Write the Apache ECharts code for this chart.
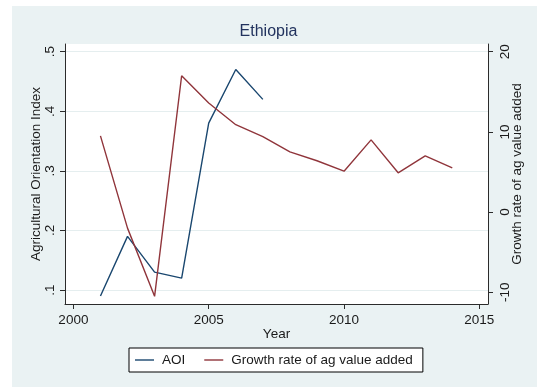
<!DOCTYPE html>
<html>
<head>
<meta charset="utf-8">
<script src="https://cdn.jsdelivr.net/npm/echarts@6/dist/echarts.min.js"></script>
<style>
  html, body { margin: 0; padding: 0; background: #ffffff; }
  #chart { width: 537px; height: 387px; }
</style>
</head>
<body>
<div id="chart"></div>
<script>
// Ethiopia: Agricultural Orientation Index vs growth rate of agricultural value added
const years = [2001, 2002, 2003, 2004, 2005, 2006, 2007, 2008, 2009, 2010, 2011, 2012, 2013, 2014];
const aoi = [0.09, 0.19, 0.13, 0.12, 0.38, 0.47, 0.42, null, null, null, null, null, null, null];
const growth = [9.5, -2.0, -10.5, 17.0, 13.6, 10.9, 9.4, 7.5, 6.4, 5.1, 9.0, 4.9, 7.0, 5.5];

const xTicks = [2000, 2005, 2010, 2015];
const leftTicks = [0.1, 0.2, 0.3, 0.4, 0.5];
const rightTicks = [-10, 0, 10, 20];

const FONT = '"Liberation Sans", Arial, Helvetica, sans-serif';
const NAVY = '#1a476f';
const MAROON = '#90353b';
const TXT = '#1a1a1a';
const AXIS = '#2b2b2b';

const pairs = (vals) => years.map((y, i) => [y, vals[i]]);
const fmtLeft = (v) => String(Math.round(v * 10) / 10).replace(/^0\./, '.');

const chart = echarts.init(document.getElementById('chart'), null, { renderer: 'canvas' });

chart.setOption({
  backgroundColor: '#ffffff',
  animation: false,
  textStyle: { fontFamily: FONT },
  graphic: {
    elements: [{
      type: 'rect', z: -100, silent: true,
      shape: { x: 12, y: 6, width: 525, height: 381 },
      style: { fill: '#eaf2f3' }
    }]
  },
  title: {
    text: 'Ethiopia',
    left: 'center',
    top: 24,
    padding: 0,
    textStyle: { fontFamily: FONT, fontSize: 16, fontWeight: 'normal', color: '#22335e' }
  },
  grid: {
    left: 65, right: 49, top: 44, bottom: 83,
    outerBoundsMode: 'none',
    show: true, backgroundColor: '#ffffff', borderWidth: 0
  },
  legend: {
    left: 129, top: 348,
    padding: [5, 10, 5, 6],
    backgroundColor: '#ffffff',
    borderColor: '#000000', borderWidth: 1, borderRadius: 0,
    icon: 'rect',
    itemWidth: 19, itemHeight: 1.4, itemGap: 19,
    textStyle: { fontFamily: FONT, fontSize: 13.5, color: TXT, padding: [0, 0, 0, 3] },
    data: ['AOI', 'Growth rate of ag value added']
  },
  xAxis: {
    type: 'value',
    min: 1999.69, max: 2015.32,
    name: 'Year', nameLocation: 'middle', nameGap: 23, nameMoveOverlap: false,
    nameTextStyle: { fontFamily: FONT, fontSize: 13.5, color: TXT },
    axisLine: { show: true, onZero: false, lineStyle: { color: AXIS, width: 1 } },
    axisTick: { show: true, length: 5, customValues: xTicks, lineStyle: { color: AXIS } },
    axisLabel: { customValues: xTicks, margin: 9, fontFamily: FONT, fontSize: 13.5, color: TXT, formatter: (v) => String(v) },
    splitLine: { show: false }
  },
  yAxis: [{
    type: 'value', position: 'left',
    min: 0.0765, max: 0.5129,
    name: 'Agricultural Orientation Index', nameLocation: 'middle', nameRotate: 90, nameGap: 22, nameMoveOverlap: false,
    nameTextStyle: { fontFamily: FONT, fontSize: 13.5, color: TXT },
    axisLine: { show: true, onZero: false, lineStyle: { color: AXIS, width: 1 } },
    axisTick: { show: true, length: 5, customValues: leftTicks, lineStyle: { color: AXIS } },
    axisLabel: { customValues: leftTicks, rotate: 90, margin: 8, fontFamily: FONT, fontSize: 13.5, color: TXT, formatter: fmtLeft },
    splitLine: { show: true, lineStyle: { color: '#e5eeef', width: 1 } }
  }, {
    type: 'value', position: 'right',
    min: -11.46, max: 20.96,
    name: 'Growth rate of ag value added', nameLocation: 'middle', nameRotate: 90, nameGap: 22, nameMoveOverlap: false,
    nameTextStyle: { fontFamily: FONT, fontSize: 13.5, color: TXT },
    axisLine: { show: true, onZero: false, lineStyle: { color: AXIS, width: 1 } },
    axisTick: { show: true, length: 5, customValues: rightTicks, lineStyle: { color: AXIS } },
    axisLabel: { customValues: rightTicks, rotate: 90, margin: 10, fontFamily: FONT, fontSize: 13.5, color: TXT, formatter: (v) => String(v) },
    splitLine: { show: false }
  }],
  series: [{
    name: 'AOI', type: 'line', yAxisIndex: 0,
    data: pairs(aoi), symbol: 'none', connectNulls: false,
    lineStyle: { color: NAVY, width: 1.4 }, itemStyle: { color: NAVY }
  }, {
    name: 'Growth rate of ag value added', type: 'line', yAxisIndex: 1,
    data: pairs(growth), symbol: 'none',
    lineStyle: { color: MAROON, width: 1.4 }, itemStyle: { color: MAROON }
  }]
});
</script>
</body>
</html>
